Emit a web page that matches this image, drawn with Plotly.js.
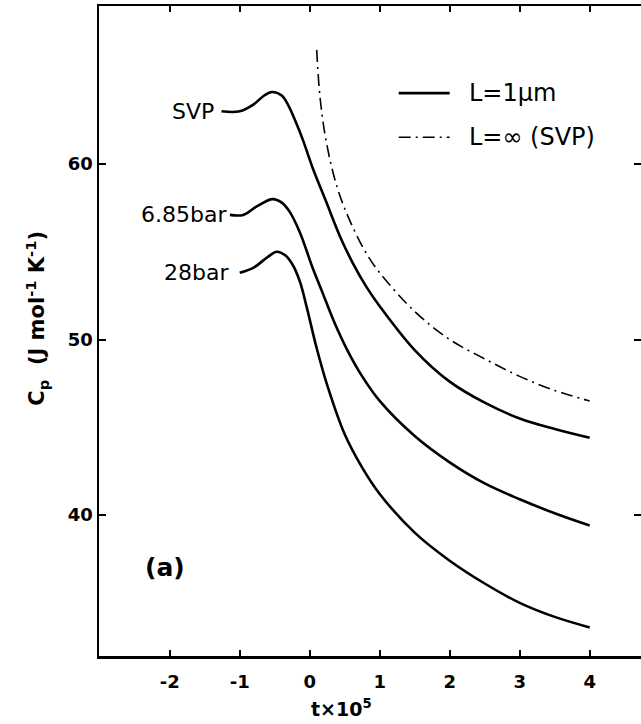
<!DOCTYPE html>
<html>
<head>
<meta charset="utf-8">
<script src="https://cdn.plot.ly/plotly-3.0.1.min.js"></script>
<style>html,body{margin:0;padding:0;background:#fff;}#chart{width:641px;height:724px;}</style>
</head>
<body>
<div id="chart"></div>
<script>
// Data
const svpX  = [-1.26, -1.0, -0.8, -0.65, -0.54, -0.4, -0.3, -0.2, -0.1, 0.04, 0.24, 0.43, 0.61, 0.81, 1.0, 1.5, 2.0, 2.5, 3.0, 3.5, 4.0];
const svpY  = [63.0, 63.0, 63.4, 63.9, 64.1, 63.9, 63.3, 62.4, 61.4, 59.8, 57.8, 55.9, 54.4, 53.0, 51.9, 49.4, 47.6, 46.4, 45.5, 44.9, 44.4];
const b685X = [-1.14, -0.95, -0.75, -0.53, -0.4, -0.29, -0.14, 0.04, 0.19, 0.35, 0.55, 0.75, 1.0, 1.5, 2.0, 2.5, 3.0, 3.5, 4.0];
const b685Y = [57.1, 57.1, 57.6, 58.0, 57.8, 57.3, 56.1, 54.1, 52.6, 51.0, 49.3, 47.9, 46.5, 44.5, 43.0, 41.8, 40.9, 40.1, 39.4];
const b28X  = [-1.0, -0.8, -0.6, -0.47, -0.35, -0.25, -0.14, -0.04, 0.1, 0.25, 0.5, 0.75, 1.0, 1.5, 2.0, 2.5, 3.0, 3.5, 4.0];
const b28Y  = [53.8, 54.1, 54.7, 55.0, 54.8, 54.3, 53.3, 51.8, 49.5, 47.4, 44.6, 42.7, 41.2, 39.0, 37.4, 36.1, 35.0, 34.2, 33.6];
const infX  = [0.1, 0.15, 0.24, 0.39, 0.57, 0.81, 1.0, 1.5, 2.0, 2.5, 3.0, 3.5, 4.0];
const infY  = [66.5, 63.7, 61.2, 58.7, 56.8, 54.9, 53.8, 51.6, 50.0, 48.9, 47.9, 47.1, 46.5];
const xTickVals = [-2, -1, 0, 1, 2, 3, 4];
const xTickText = ["-2", "-1", "0", "1", "2", "3", "4"];
const yTickVals = [40, 50, 60];
const yTickText = ["40", "50", "60"];
const curveLabels = [
  {text: "SVP", x: -1.34, y: 63.0},
  {text: "6.85bar", x: -1.15, y: 57.1},
  {text: "28bar", x: -1.12, y: 53.8}
];
const legendLabels = ["L=1μm", "L=∞ (SVP)"];

const FONT = "DejaVu Sans, sans-serif";
const solid = {color: "#000", width: 2.6, shape: "spline", smoothing: 1.0};
const dashdot = {color: "#000", width: 1.6, dash: "12px,5px,2px,5px", shape: "spline", smoothing: 1.0};

const traces = [
  {x: svpX, y: svpY, mode: "lines", line: solid, name: legendLabels[0]},
  {x: b685X, y: b685Y, mode: "lines", line: solid},
  {x: b28X, y: b28Y, mode: "lines", line: solid},
  {x: infX, y: infY, mode: "lines", name: legendLabels[1], line: dashdot}
];

const annotations = curveLabels.map(l => ({
  x: l.x, y: l.y, xref: "x", yref: "y", text: l.text, showarrow: false,
  xanchor: "right", yanchor: "middle", font: {family: FONT, size: 22, color: "#000"}
}));
annotations.push({x: -2.07, y: 37.0, xref: "x", yref: "y", text: "<b>(a)</b>", showarrow: false,
  xanchor: "center", yanchor: "middle", font: {family: FONT, size: 25, color: "#000"}});
annotations.push({x: 0.45, y: -0.058, xref: "x", yref: "paper", text: "<b>t×10<sup>5</sup></b>", showarrow: false,
  xanchor: "center", yanchor: "top", font: {family: FONT, size: 19, color: "#000"}});
annotations.push({x: -0.115, y: 0.52, xref: "paper", yref: "paper", textangle: -90,
  text: "<b>C<sub>p</sub>  (J mol<sup>-1</sup> K<sup>-1</sup>)</b>", showarrow: false,
  xanchor: "center", yanchor: "middle", font: {family: FONT, size: 21, color: "#000"}});
// manual legend
const legRows = [0.866, 0.798];
legendLabels.forEach((t, i) => annotations.push({x: 0.679, y: legRows[i], xref: "paper", yref: "paper",
  text: t, showarrow: false, xanchor: "left", yanchor: "middle", font: {family: FONT, size: 24, color: "#000"}}));
const shapes = [
  {type: "line", xref: "paper", yref: "paper", x0: 0.553, x1: 0.647, y0: legRows[0], y1: legRows[0], line: {color: "#000", width: 2.6}},
  {type: "line", xref: "paper", yref: "paper", x0: 0.553, x1: 0.647, y0: legRows[1], y1: legRows[1], line: {color: "#000", width: 1.6, dash: "12px,5px,2px,5px"}}
];

const layout = {
  width: 641, height: 724,
  margin: {l: 99, r: 0, t: 6, b: 68},
  paper_bgcolor: "#fff", plot_bgcolor: "#fff",
  showlegend: false,
  xaxis: {range: [-3.01, 4.733], tickvals: xTickVals, ticktext: xTickText,
    ticks: "inside", ticklen: 6, tickwidth: 2, tickcolor: "#000", ticklabelstandoff: 8,
    showline: true, linewidth: 2.5, linecolor: "#000", mirror: "ticks",
    showgrid: false, zeroline: false,
    tickfont: {family: FONT, size: 18, color: "#000", weight: "bold"}},
  yaxis: {range: [31.97, 69.0], tickvals: yTickVals, ticktext: yTickText,
    ticks: "inside", ticklen: 7, tickwidth: 2, tickcolor: "#000",
    showline: true, linewidth: 2.5, linecolor: "#000", mirror: "ticks",
    showgrid: false, zeroline: false,
    tickfont: {family: FONT, size: 18, color: "#000", weight: "bold"}},
  annotations: annotations,
  shapes: shapes
};

Plotly.newPlot("chart", traces, layout, {staticPlot: true, displayModeBar: false});
</script>
</body>
</html>
